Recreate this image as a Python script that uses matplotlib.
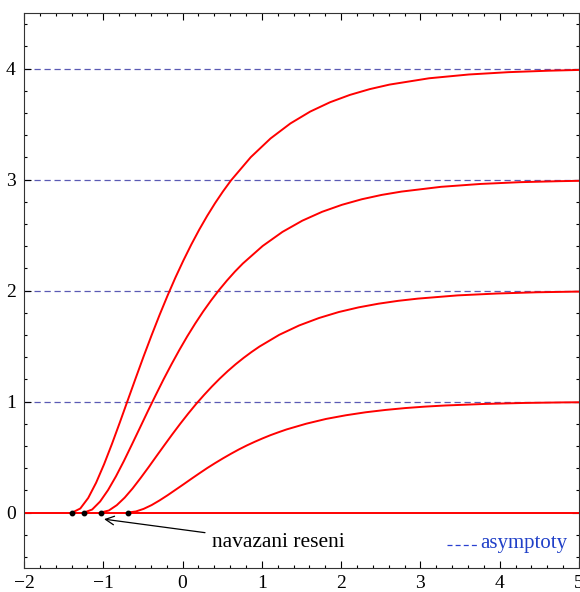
import matplotlib
matplotlib.use("Agg")
import matplotlib.pyplot as plt
from matplotlib.ticker import MultipleLocator

plt.rcParams['font.family'] = ['Liberation Serif', 'DejaVu Serif']

# krivky (asymptota 4, 3, 2, 1)
x4 = [-1.39, -1.29, -1.19, -1.09, -0.99, -0.89, -0.79, -0.69, -0.59, -0.49, -0.39,
      -0.29, -0.19, -0.09, 0.01, 0.11, 0.21, 0.31, 0.41, 0.51, 0.61,
      0.86, 1.11, 1.36, 1.61, 1.86, 2.11, 2.36, 2.61, 3.11, 3.61, 4.11, 4.61, 5.0]
y4 = [0, 0.036, 0.131, 0.269, 0.435, 0.619, 0.814, 1.014, 1.213, 1.409, 1.598,
      1.780, 1.953, 2.117, 2.270, 2.414, 2.548, 2.672, 2.787, 2.893, 2.991,
      3.201, 3.370, 3.505, 3.612, 3.696, 3.762, 3.814, 3.855, 3.912, 3.946, 3.967, 3.980, 3.987]

x3 = [-1.24, -1.14, -1.04, -0.94, -0.84, -0.74, -0.64, -0.54, -0.44, -0.34, -0.24,
      -0.14, -0.04, 0.06, 0.16, 0.26, 0.36, 0.46, 0.56, 0.66, 0.76,
      1.01, 1.26, 1.51, 1.76, 2.01, 2.26, 2.51, 2.76, 3.26, 3.76, 4.26, 4.76, 5.0]
y3 = [0, 0.027, 0.099, 0.202, 0.326, 0.464, 0.611, 0.760, 0.910, 1.056, 1.199,
      1.335, 1.465, 1.588, 1.703, 1.811, 1.911, 2.004, 2.090, 2.170, 2.243,
      2.401, 2.528, 2.629, 2.709, 2.772, 2.822, 2.861, 2.891, 2.934, 2.960, 2.976, 2.985, 2.988]

x2 = [-1.03, -0.93, -0.83, -0.73, -0.63, -0.53, -0.43, -0.33, -0.23, -0.13, -0.03,
      0.07, 0.17, 0.27, 0.37, 0.47, 0.57, 0.67, 0.77, 0.87, 0.97,
      1.22, 1.47, 1.72, 1.97, 2.22, 2.47, 2.72, 2.97, 3.47, 3.97, 4.47, 4.97, 5.0]
y2 = [0, 0.018, 0.066, 0.134, 0.217, 0.310, 0.407, 0.507, 0.606, 0.704, 0.799,
      0.890, 0.977, 1.058, 1.135, 1.207, 1.274, 1.336, 1.393, 1.446, 1.495,
      1.601, 1.685, 1.752, 1.806, 1.848, 1.881, 1.907, 1.927, 1.956, 1.973, 1.984, 1.990, 1.990]

x1 = [-0.69, -0.59, -0.49, -0.39, -0.29, -0.19, -0.09, 0.01, 0.11, 0.21, 0.31,
      0.41, 0.51, 0.61, 0.71, 0.81, 0.91, 1.01, 1.11, 1.21, 1.31,
      1.56, 1.81, 2.06, 2.31, 2.56, 2.81, 3.06, 3.31, 3.81, 4.31, 4.81, 5.0]
y1 = [0, 0.009, 0.033, 0.067, 0.109, 0.155, 0.204, 0.253, 0.303, 0.352, 0.400,
      0.445, 0.488, 0.529, 0.568, 0.604, 0.637, 0.668, 0.697, 0.723, 0.748,
      0.800, 0.843, 0.876, 0.903, 0.924, 0.941, 0.954, 0.964, 0.978, 0.987, 0.992, 0.993]

krivky = [(x4, y4), (x3, y3), (x2, y2), (x1, y1)]
asymptoty = [1, 2, 3, 4]
body_x = [-1.39, -1.24, -1.03, -0.69]
body_y = [0, 0, 0, 0]

fig = plt.figure(figsize=(5.8, 5.92), dpi=100)
ax = fig.add_axes([24 / 580, 24 / 592, 555 / 580, 555 / 592])

for a in asymptoty:
    ax.axhline(a, color='#5a5ab4', lw=0.9, ls=(0, (5, 3)), zorder=1)

ax.axhline(0, color='red', lw=1.4, zorder=2)
for xs, ys in krivky:
    ax.plot(xs, ys, color='red', lw=1.4, zorder=3, solid_joinstyle='round')

ax.plot(body_x, body_y, 'o', color='black', ms=3.2, zorder=4)

ax.annotate('navazani reseni', xy=(-0.99, -0.06), xytext=(0.37, -0.27),
            fontsize=15.5, va='center', ha='left',
            arrowprops=dict(arrowstyle='->', color='black', lw=0.9,
                            shrinkA=3, shrinkB=0))

# legenda
ax.plot([3.34, 3.73], [-0.297, -0.297], color='#2a40d0', lw=0.9, ls=(0, (4, 2.5)))
ax.text(3.75, -0.28, 'asymptoty', color='#2040c8', fontsize=15,
        va='center', ha='left')

ax.set_xlim(-2, 5)
ax.set_ylim(-0.5, 4.5)
ax.xaxis.set_major_locator(MultipleLocator(1))
ax.xaxis.set_minor_locator(MultipleLocator(0.2))
ax.yaxis.set_major_locator(MultipleLocator(1))
ax.yaxis.set_minor_locator(MultipleLocator(0.2))
ax.tick_params(which='both', direction='in', top=True, right=True,
               labelsize=14, width=0.8)
ax.tick_params(which='major', length=5)
ax.tick_params(axis='x', which='major', pad=5)
ax.tick_params(axis='y', which='major', pad=6)
ax.tick_params(which='minor', length=2.5)
for s in ax.spines.values():
    s.set_linewidth(0.8)
    s.set_color('#333333')

fig.savefig('out.png', dpi=100)
